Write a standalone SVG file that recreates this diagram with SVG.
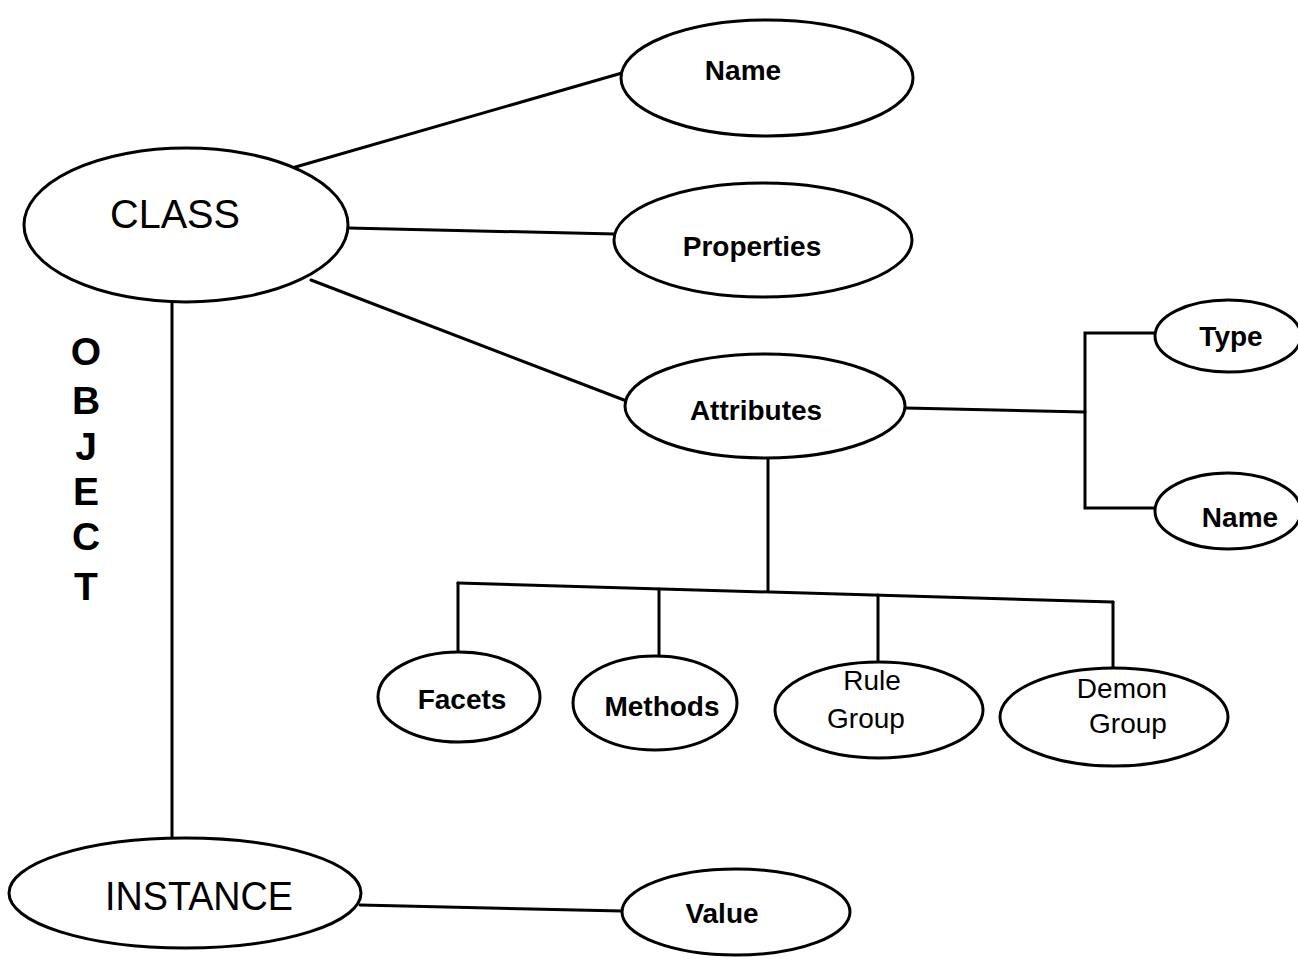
<svg xmlns="http://www.w3.org/2000/svg" width="1298" height="959" viewBox="0 0 1298 959">
  <style>
    .node ellipse { fill: #ffffff; stroke: #000000; stroke-width: 3; }
    .edge { fill: none; stroke: #000000; stroke-width: 3; stroke-linecap: round; stroke-linejoin: miter; }
    text { font-family: "Liberation Sans", Arial, sans-serif; fill: #000000; text-anchor: middle; }
    .big { font-size: 41px; }
    .bold { font-size: 28px; font-weight: bold; }
    .reg { font-size: 28px; }
    .vert { font-size: 39px; font-weight: bold; }
  </style>

  <rect x="0" y="0" width="1298" height="959" fill="#ffffff"/>

  <!-- connectors -->
  <g id="connectors">
    <line class="edge" x1="292" y1="168" x2="622" y2="73"/>
    <line class="edge" x1="348" y1="228" x2="615" y2="234"/>
    <line class="edge" x1="311" y1="280" x2="624" y2="400"/>
    <line class="edge" x1="172" y1="302" x2="172" y2="838"/>
    <line class="edge" x1="360" y1="905" x2="622" y2="911"/>
    <!-- attribute detail bracket -->
    <line class="edge" x1="905" y1="408" x2="1085" y2="412"/>
    <polyline class="edge" points="1156,333 1085,333 1085,508 1156,508"/>
    <!-- attribute children tree -->
    <line class="edge" x1="768" y1="458" x2="768" y2="590"/>
    <line class="edge" x1="458" y1="583" x2="1113" y2="602"/>
    <line class="edge" x1="458" y1="583" x2="458" y2="652"/>
    <line class="edge" x1="659" y1="589" x2="659" y2="656"/>
    <line class="edge" x1="878" y1="595" x2="878" y2="662"/>
    <line class="edge" x1="1113" y1="602" x2="1113" y2="668"/>
  </g>

  <g id="class" class="node">
    <ellipse cx="186" cy="225" rx="162" ry="77"/>
    <text class="big" x="175" y="228" textLength="130" lengthAdjust="spacingAndGlyphs">CLASS</text>
  </g>

  <g id="name" class="node">
    <ellipse cx="767" cy="78" rx="146" ry="58"/>
    <text class="bold" x="743" y="80">Name</text>
  </g>

  <g id="properties" class="node">
    <ellipse cx="763" cy="240" rx="149" ry="57"/>
    <text class="bold" x="752" y="256">Properties</text>
  </g>

  <g id="attributes" class="node">
    <ellipse cx="765" cy="406" rx="140" ry="52"/>
    <text class="bold" x="756" y="420" font-size="27">Attributes</text>
  </g>

  <g id="type" class="node">
    <ellipse cx="1228" cy="336" rx="73" ry="36"/>
    <text class="bold" x="1231" y="346" font-size="26">Type</text>
  </g>

  <g id="attr-name" class="node">
    <ellipse cx="1228" cy="511" rx="73" ry="38"/>
    <text class="bold" x="1240" y="527" font-size="26">Name</text>
  </g>

  <g id="facets" class="node">
    <ellipse cx="459" cy="697" rx="81" ry="45"/>
    <text class="bold" x="462" y="709" font-size="26">Facets</text>
  </g>

  <g id="methods" class="node">
    <ellipse cx="655" cy="703" rx="82" ry="47"/>
    <text class="bold" x="662" y="716" font-size="27">Methods</text>
  </g>

  <g id="rule-group" class="node">
    <ellipse cx="879" cy="710" rx="104" ry="48"/>
    <text class="reg" x="872" y="690">Rule</text>
    <text class="reg" x="866" y="728">Group</text>
  </g>

  <g id="demon-group" class="node">
    <ellipse cx="1114" cy="717" rx="114" ry="49"/>
    <text class="reg" x="1122" y="698">Demon</text>
    <text class="reg" x="1128" y="733">Group</text>
  </g>

  <g id="instance" class="node">
    <ellipse cx="185" cy="893" rx="176" ry="55"/>
    <text class="big" x="199" y="910" textLength="188" lengthAdjust="spacingAndGlyphs">INSTANCE</text>
  </g>

  <g id="value" class="node">
    <ellipse cx="736" cy="912" rx="114" ry="43"/>
    <text class="bold" x="722" y="923">Value</text>
  </g>

  <!-- vertical side label -->
  <g id="object-label">
    <text class="vert" x="86" y="365">O</text>
    <text class="vert" x="86" y="414">B</text>
    <text class="vert" x="86" y="460">J</text>
    <text class="vert" x="86" y="505">E</text>
    <text class="vert" x="86" y="550">C</text>
    <text class="vert" x="86" y="600">T</text>
  </g>
</svg>
